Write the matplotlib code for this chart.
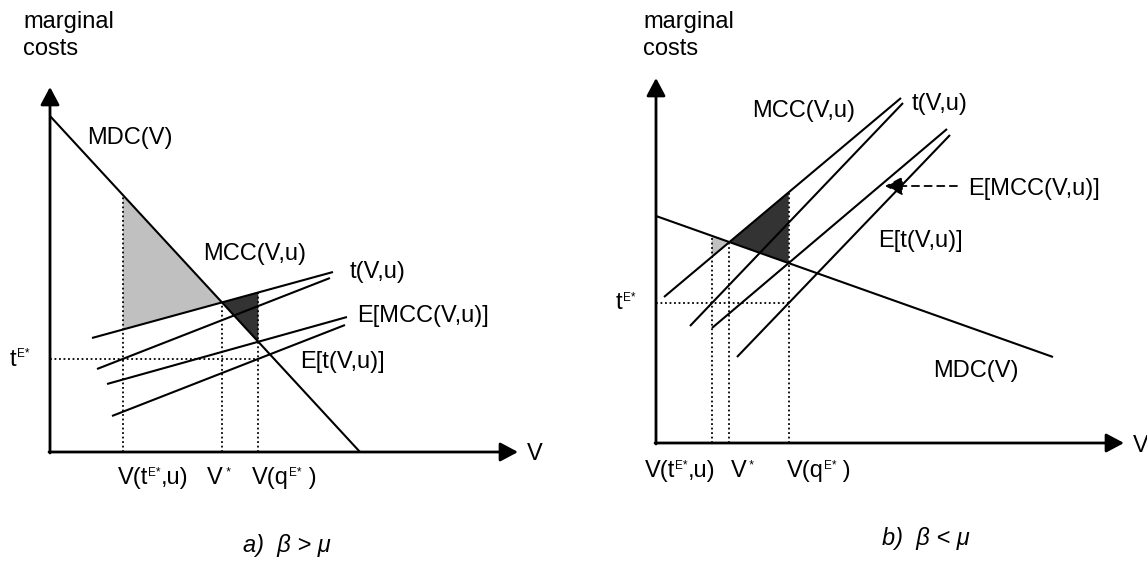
import numpy as np
import matplotlib.pyplot as plt

# Fonte parecida com Arial
plt.rcParams['font.family'] = ['Liberation Sans', 'DejaVu Sans']

# Comprimento dos eixos (V, custos) - igual nos dois painéis
AXIS_LEN = [468, 365]

# Painel a) beta > mu : retas como (x0, y0, x1, y1)
a_mdc = [0, 336, 310, 0]
a_mcc = [42, 114, 283, 180]
a_t = [47, 83, 280, 174]
a_emcc = [57, 68, 297, 135]
a_et = [62, 36, 295, 127]

# Painel b) beta < mu
b_mdc = [0, 227, 397, 86]
b_mcc = [8, 146, 245, 345]
b_t = [34, 117, 247, 340]
b_emcc = [56, 115, 291, 314]
b_et = [81, 86, 294, 308]

FS = 17
FS_SUP = 8.5
RISE = 7.5
LIGHT = '#c0c0c0'
DARK = '#333333'


def slope(l):
    return (l[3] - l[1]) / (l[2] - l[0])


def y_at(l, x):
    return l[1] + slope(l) * (x - l[0])


def x_at(l, y):
    return l[0] + (y - l[1]) / slope(l)


def cross(l1, l2):
    # intersecção de duas retas
    m1, m2 = slope(l1), slope(l2)
    x = (l2[1] - m2 * l2[0] - l1[1] + m1 * l1[0]) / (m1 - m2)
    return x, y_at(l1, x)


def rich(ax, x, y, parts, **kw):
    """Texto em pedaços: (texto, pequeno?) - pequeno = expoente."""
    first = ax.text(x, y, parts[0][0], fontsize=FS, va='baseline', ha='left',
                    clip_on=False, **kw)
    prev = first
    for s, small in parts[1:]:
        prev = ax.annotate(s, xy=(1, 0), xycoords=(prev, first),
                           xytext=(0, RISE if small else 0),
                           textcoords='offset points',
                           fontsize=FS_SUP if small else FS,
                           va='bottom', ha='left', annotation_clip=False)
    return first


def draw_panel(ax, mdc, mcc, t, emcc, et):
    ax.set_xlim(0, AXIS_LEN[0])
    ax.set_ylim(0, AXIS_LEN[1])
    ax.axis('off')

    # pontos de equilíbrio
    v_star, c_star = cross(mcc, mdc)
    v_q, _ = cross(emcc, mdc)
    t_e = y_at(et, v_q)
    v_t = x_at(t, t_e)

    # áreas de perda
    ax.fill([v_t, v_t, v_star], [y_at(mdc, v_t), y_at(mcc, v_t), c_star],
            color=LIGHT, lw=0)
    ax.fill([v_star, v_q, v_q], [c_star, y_at(mcc, v_q), y_at(mdc, v_q)],
            color=DARK, lw=0)

    # linhas pontilhadas
    dot = dict(color='k', lw=1.3, ls=(0, (1, 1.5)))
    ax.plot([v_t, v_t], [0, max(y_at(mdc, v_t), y_at(mcc, v_t))], **dot)
    ax.plot([v_star, v_star], [0, c_star], **dot)
    ax.plot([v_q, v_q], [0, y_at(mcc, v_q)], **dot)
    ax.plot([0, v_q], [t_e, t_e], **dot)

    # curvas
    for l in [mdc, mcc, t, emcc, et]:
        ax.plot([l[0], l[2]], [l[1], l[3]], color='k', lw=1.5,
                solid_capstyle='butt', clip_on=False)

    # eixos com setas
    arrow = dict(arrowstyle='-|>,head_length=0.6,head_width=0.32', color='k',
                 lw=2, mutation_scale=18, shrinkA=0, shrinkB=0)
    ax.annotate('', xy=(AXIS_LEN[0], 0), xytext=(-1, 0), arrowprops=arrow,
                annotation_clip=False)
    ax.annotate('', xy=(0, AXIS_LEN[1]), xytext=(0, -1), arrowprops=arrow,
                annotation_clip=False)
    return v_t, v_star, v_q, t_e


fig = plt.figure(figsize=(11.47, 5.61), dpi=100)
W, H = 1147, 561
ax_a = fig.add_axes([50 / W, (H - 452) / H, AXIS_LEN[0] / W, AXIS_LEN[1] / H])
ax_b = fig.add_axes([656 / W, (H - 443) / H, AXIS_LEN[0] / W, AXIS_LEN[1] / H])

lab = dict(fontsize=FS, va='baseline', ha='left', clip_on=False)
TE = [('t', 0), ('E*', 1)]
VT = [('V(t', 0), ('E*', 1), (',u)', 0)]
VS = [('V', 0), (' *', 1)]
VQ = [('V(q', 0), ('E*', 1), (' )', 0)]

# ---- painel a
vt, vs, vq, te = draw_panel(ax_a, a_mdc, a_mcc, a_t, a_emcc, a_et)
ax_a.text(-27, 424, 'marginal', **lab)
ax_a.text(-27, 397, 'costs', **lab)
ax_a.text(37, 308, 'MDC(V)', **lab)
ax_a.text(153, 192, 'MCC(V,u)', **lab)
ax_a.text(300, 174, 't(V,u)', **lab)
ax_a.text(307, 130, 'E[MCC(V,u)]', **lab)
ax_a.text(250, 84, 'E[t(V,u)]', **lab)
ax_a.text(477, -8, 'V', **lab)
rich(ax_a, -40, te - 7, TE)
rich(ax_a, vt - 5, -32, VT)
rich(ax_a, vs - 15, -32, VS)
rich(ax_a, vq - 6, -32, VQ)
ax_a.text(193, -100, 'a)  β > μ', fontstyle='italic', **lab)

# ---- painel b
vt, vs, vq, te = draw_panel(ax_b, b_mdc, b_mcc, b_t, b_emcc, b_et)
ax_b.text(-13, 415, 'marginal', **lab)
ax_b.text(-13, 388, 'costs', **lab)
ax_b.text(96, 326, 'MCC(V,u)', **lab)
ax_b.text(256, 333, 't(V,u)', **lab)
ax_b.text(312, 248, 'E[MCC(V,u)]', **lab)
ax_b.text(222, 196, 'E[t(V,u)]', **lab)
ax_b.text(277, 66, 'MDC(V)', **lab)
ax_b.text(477, -9, 'V', **lab)
rich(ax_b, -40, te - 6, TE)
rich(ax_b, vt - 67, -34, VT)
rich(ax_b, vs + 1, -34, VS)
rich(ax_b, vq - 2, -34, VQ)
ax_b.text(226, -102, 'b)  β < μ', fontstyle='italic', **lab)

# seta tracejada apontando para E[MCC(V,u)]
ax_b.annotate('', xy=(229, 257), xytext=(301, 257),
              arrowprops=dict(arrowstyle='-|>,head_length=0.6,head_width=0.32',
                              color='k', lw=1.3, ls=(0, (4, 3)),
                              mutation_scale=18, shrinkA=0, shrinkB=0),
              annotation_clip=False)

fig.savefig('out.png', dpi=100)
